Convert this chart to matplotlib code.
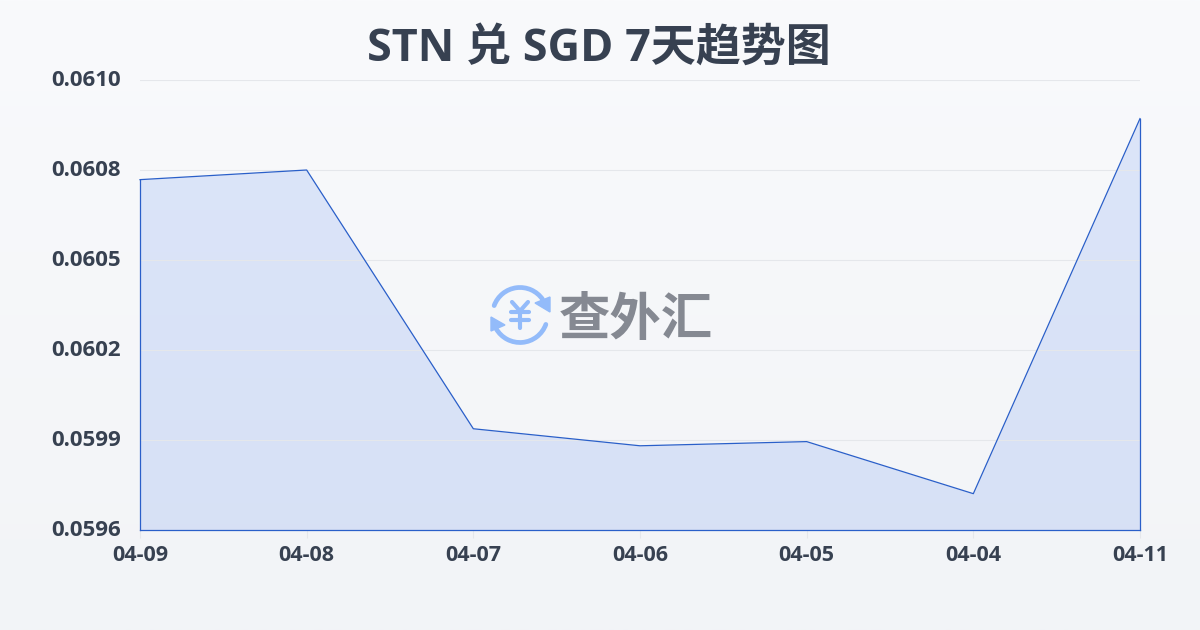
import matplotlib
matplotlib.use('Agg')
import matplotlib.pyplot as plt
import numpy as np
from matplotlib.patches import Arc, Polygon
from matplotlib.transforms import ScaledTranslation

plt.rcParams['font.family'] = ['Open Sans', 'Noto Sans CJK SC', 'DejaVu Sans']

# chart data
dates = ['04-09', '04-08', '04-07', '04-06', '04-05', '04-04', '04-11']
rates = [0.060730, 0.060760, 0.059955, 0.059902, 0.059915, 0.059753, 0.060920]
y_ticks = [0.05964, 0.05992, 0.06020, 0.06048, 0.06076, 0.06104]
y_labels = ['0.0596', '0.0599', '0.0602', '0.0605', '0.0608', '0.0610']

TITLE = 'STN 兑 SGD 7天趋势图'
WATERMARK = '查外汇'

W, H = 1200, 630
TEXT = '#374151'
LINE = '#2a5fc9'
GRID = '#e5e7eb'
ICON = '#93bbfa'

fig = plt.figure(figsize=(W / 100, H / 100), dpi=100)

# background gradient
bg = fig.add_axes([0, 0, 1, 1], zorder=0)
bg.imshow(np.linspace(0, 1, 256).reshape(-1, 1), aspect='auto', extent=(0, 1, 0, 1),
          cmap=matplotlib.colors.LinearSegmentedColormap.from_list('bg', ['#f9fafc', '#f2f4f7']))
bg.axis('off')

# plot area sits at x 140-1140, y 80-530 in pixels
ax = fig.add_axes([140 / W, 1 - 530 / H, 1000 / W, 450 / H], zorder=1)
ax.patch.set_alpha(0)
x = np.arange(len(dates))
ax.set_xlim(0, len(dates) - 1)
ax.set_ylim(y_ticks[0], y_ticks[-1])

ax.fill_between(x, rates, y_ticks[0], color='#2563eb', alpha=0.135, lw=0, zorder=1)
ax.plot(x, rates, color=LINE, lw=0.9, zorder=3, clip_on=False)
ax.plot([x[0], x[0]], [y_ticks[0], rates[0]], color=LINE, lw=0.9, zorder=3, clip_on=False)
ax.plot([x[-1], x[-1]], [y_ticks[0], rates[-1]], color=LINE, lw=0.9, zorder=3, clip_on=False)
ax.plot([x[0], x[-1]], [y_ticks[0], y_ticks[0]], color=LINE, lw=0.9, zorder=3, clip_on=False)

ax.set_yticks(y_ticks)
ax.set_yticklabels(y_labels, fontsize=16, fontweight='bold', color=TEXT)
ax.set_xticks(x)
ax.set_xticklabels(dates, fontsize=15.5, fontweight='bold', color=TEXT)
ax.grid(axis='y', color=GRID, lw=0.8, zorder=2)
ax.tick_params(axis='y', length=0, pad=14)
ax.tick_params(axis='x', length=6, width=0.8, color=GRID, pad=4.5)
for label in ax.get_yticklabels():
    label.set_transform(label.get_transform() + ScaledTranslation(0, 1.5 / 100, fig.dpi_scale_trans))
for side in ax.spines.values():
    side.set_visible(False)

fig.text(599 / W, 1 - 44 / H, TITLE, ha='center', va='center_baseline', fontsize=32.4,
         fontweight='bold', color=TEXT)

# watermark, drawn in pixel coordinates
wm = fig.add_axes([0, 0, 1, 1], zorder=2)
wm.set_xlim(0, W)
wm.set_ylim(H, 0)
wm.axis('off')
wm.patch.set_alpha(0)
wm.text(636, 314, WATERMARK, ha='center', va='center_baseline', fontsize=37, fontweight='black',
        color='#858992', family=['Noto Sans CJK SC'])
cx, cy = 520, 315
wm.add_patch(Arc((cx, cy), 55, 55, theta1=200, theta2=325, color=ICON, lw=3.4, capstyle='round'))
wm.add_patch(Arc((cx, cy), 55, 55, theta1=20, theta2=150, color=ICON, lw=3.4, capstyle='round'))
wm.add_patch(Polygon([(550, 297), (550, 312), (535, 303)], color=ICON))
wm.add_patch(Polygon([(491, 317), (491, 331), (505, 325)], color=ICON))
wm.plot([512, 520, 528], [302, 311, 302], color=ICON, lw=3, solid_capstyle='round', solid_joinstyle='round')
wm.plot([520, 520], [311, 328], color=ICON, lw=3, solid_capstyle='round')
wm.plot([511, 529], [312, 312], color=ICON, lw=3, solid_capstyle='round')
wm.plot([511, 529], [320, 320], color=ICON, lw=3, solid_capstyle='round')

fig.savefig('out.png', dpi=100)
